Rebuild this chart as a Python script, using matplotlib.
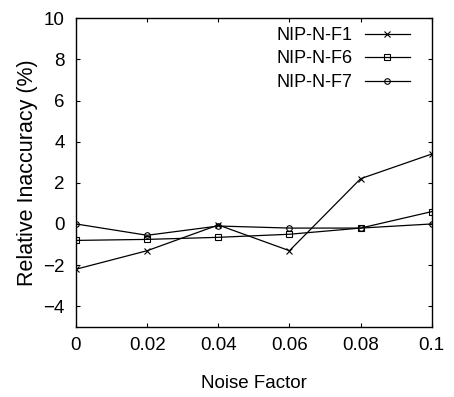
import matplotlib
matplotlib.use('Agg')
import matplotlib.pyplot as plt

# data
noise = [0, 0.02, 0.04, 0.06, 0.08, 0.1]
f1 = [-2.2, -1.3, -0.05, -1.3, 2.2, 3.4]
f6 = [-0.8, -0.75, -0.65, -0.5, -0.2, 0.6]
f7 = [0.0, -0.55, -0.1, -0.2, -0.2, 0.0]
labels = ['NIP-N-F1', 'NIP-N-F6', 'NIP-N-F7']
xticks = [0, 0.02, 0.04, 0.06, 0.08, 0.1]
xticklabels = ['0', '0.02', '0.04', '0.06', '0.08', '0.1']
yticks = [-4, -2, 0, 2, 4, 6, 8, 10]

plt.rcParams['font.family'] = ['Liberation Sans', 'DejaVu Sans']
plt.rcParams['font.size'] = 13.5

fig = plt.figure(figsize=(4.54, 3.97), dpi=100)
ax = fig.add_axes([0.1674, 0.1768, 0.951 - 0.1674, 0.954 - 0.1768])

ax.plot(noise, f1, color='black', lw=0.9, marker='x', ms=4, mew=0.8, label=labels[0])
ax.plot(noise, f6, color='black', lw=0.9, marker='s', ms=4, mew=0.8, mfc='none', label=labels[1])
ax.plot(noise, f7, color='black', lw=0.9, marker='o', ms=4, mew=0.8, mfc='none', label=labels[2])

ax.set_xlim(0, 0.1)
ax.set_ylim(-5, 10)
ax.set_xticks(xticks)
ax.set_xticklabels(xticklabels)
ax.set_yticks(yticks)
ax.tick_params(direction='in', length=3, width=0.8, top=True, right=True)
ax.tick_params(axis='x', pad=7)
ax.tick_params(axis='y', pad=8)
for s in ax.spines.values():
    s.set_linewidth(1.0)

ax.set_xlabel('Noise Factor', fontsize=13.5, va='center', ha='center')
ax.xaxis.set_label_coords(0.5, -0.185)
ax.set_ylabel('Relative Inaccuracy (%)', fontsize=15.5, va='center', ha='center')
ax.yaxis.set_label_coords(-0.135, 0.5)

ax.legend(loc='upper right', bbox_to_anchor=(0.939, 0.972), frameon=False,
          markerfirst=False, handlelength=2.5, handletextpad=0.7,
          labelspacing=0.36, borderpad=0, borderaxespad=0, fontsize=13)

fig.savefig('out.png', dpi=100, facecolor='white')
